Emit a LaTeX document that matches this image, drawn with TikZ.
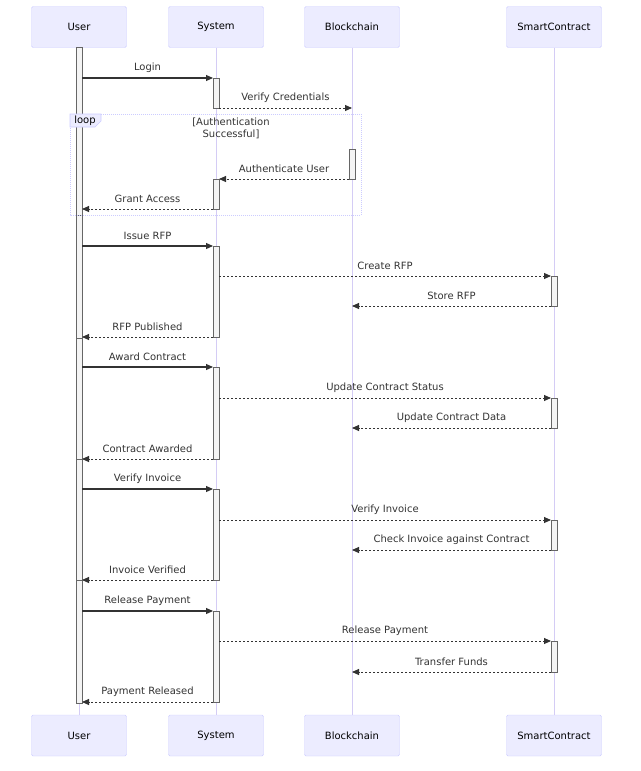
\documentclass[tikz,border=0pt]{standalone}
\usepackage{fontspec}
\setmainfont{DejaVu Sans}
\usetikzlibrary{arrows.meta}
\definecolor{actfill}{HTML}{ECECFF}
\definecolor{actline}{HTML}{CCCCFF}
\definecolor{lifeline}{HTML}{D4CCF5}
\definecolor{txt}{HTML}{333333}
\definecolor{barfill}{HTML}{F4F4F4}
\definecolor{barline}{HTML}{666666}
\begin{document}
\begin{tikzpicture}[x=1pt,y=-1pt,
  font=\fontsize{10}{12}\selectfont,
  actor/.style={draw=actline,fill=actfill,rounded corners=1.5pt,minimum width=95pt,minimum height=41pt,inner sep=0pt,text=black},
  bar/.style={draw=barline,fill=barfill,line width=0.6pt},
  lifel/.style={draw=lifeline,line width=1pt},
  msg/.style={draw=txt,line width=1.1pt,-{Triangle[length=7pt,width=6pt]}},
  reply/.style={msg,line width=0.9pt,dash pattern=on 2pt off 2pt},
  lbl/.style={midway,yshift=10.5pt,inner sep=0pt,text=txt}]
\useasboundingbox (0,0) rectangle (640,771);
% actors
\node[actor] (uT) at (79,27) {User};
\node[actor] (sT) at (216,27) {System};
\node[actor] (bT) at (352,27) {Blockchain};
\node[actor] (cT) at (554,27) {SmartContract};
\node[actor] (uB) at (79,735.5) {User};
\node[actor] (sB) at (216,735.5) {System};
\node[actor] (bB) at (352,735.5) {Blockchain};
\node[actor] (cB) at (554,735.5) {SmartContract};
\draw[lifel] (uT) -- (uB);
\draw[lifel] (sT) -- (sB);
\draw[lifel] (bT) -- (bB);
\draw[lifel] (cT) -- (cB);
% activation bars
\newcommand{\actbar}[4]{\path[bar] (#2-3,#3) rectangle (#2+3,#4); \coordinate (#1nw) at (#2-3,#3); \coordinate (#1ne) at (#2+3,#3); \coordinate (#1sw) at (#2-3,#4); \coordinate (#1se) at (#2+3,#4);}
\actbar{uA1}{79}{47}{215}
\actbar{uA2}{79}{215}{338}
\actbar{uA3}{79}{338}{459}
\actbar{uA4}{79}{459}{580}
\actbar{uA5}{79}{580}{703}
\actbar{sA1}{216}{78}{108}
\actbar{bA1}{352}{149}{179}
\actbar{sA2}{216}{179}{209}
\actbar{sA3}{216}{246}{337}
\actbar{cA1}{554}{276}{306}
\actbar{sA4}{216}{367}{459}
\actbar{cA2}{554}{398}{428}
\actbar{sA5}{216}{489}{580}
\actbar{cA3}{554}{520}{550}
\actbar{sA6}{216}{611}{702}
\actbar{cA4}{554}{641}{672}
% loop frame
\draw[actline,line width=0.8pt,dash pattern=on 1pt off 1pt] (70,114) rectangle (361,215);
\draw[actline,fill=actfill,line width=0.6pt] (70,114) -- (101,114) -- (101,121) -- (95,127) -- (70,127) -- cycle;
\node[inner sep=0pt,text=black] (looplbl) at (85,121) {loop};
\node[inner sep=0pt,text=txt,align=center,font=\fontsize{10}{12}\selectfont] (cond) at (231,128) {[Authentication\\Successful]};
% messages
\draw[msg] (sA1nw -| uA1ne) -- (sA1nw) node[lbl] (l1) {Login};
\draw[reply] (sA1se) -- (sA1se -| bT) node[lbl] (l2) {Verify Credentials};
\draw[reply] (bA1sw) -- (bA1sw -| sA2ne) node[lbl] (l3) {Authenticate User};
\draw[reply] (sA2sw) -- (sA2sw -| uA1ne) node[lbl] (l4) {Grant Access};
\draw[msg] (sA3nw -| uA2ne) -- (sA3nw) node[lbl] (l5) {Issue RFP};
\draw[reply] (cA1nw -| sA3ne) -- (cA1nw) node[lbl] (l6) {Create RFP};
\draw[reply] (cA1sw) -- (cA1sw -| bT) node[lbl] (l7) {Store RFP};
\draw[reply] (sA3sw) -- (sA3sw -| uA2ne) node[lbl] (l8) {RFP Published};
\draw[msg] (sA4nw -| uA3ne) -- (sA4nw) node[lbl] (l9) {Award Contract};
\draw[reply] (cA2nw -| sA4ne) -- (cA2nw) node[lbl] (l10) {Update Contract Status};
\draw[reply] (cA2sw) -- (cA2sw -| bT) node[lbl] (l11) {Update Contract Data};
\draw[reply] (sA4sw) -- (sA4sw -| uA3ne) node[lbl] (l12) {Contract Awarded};
\draw[msg] (sA5nw -| uA4ne) -- (sA5nw) node[lbl] (l13) {Verify Invoice};
\draw[reply] (cA3nw -| sA5ne) -- (cA3nw) node[lbl] (l14) {Verify Invoice};
\draw[reply] (cA3sw) -- (cA3sw -| bT) node[lbl] (l15) {Check Invoice against Contract};
\draw[reply] (sA5sw) -- (sA5sw -| uA4ne) node[lbl] (l16) {Invoice Verified};
\draw[msg] (sA6nw -| uA5ne) -- (sA6nw) node[lbl] (l17) {Release Payment};
\draw[reply] (cA4nw -| sA6ne) -- (cA4nw) node[lbl] (l18) {Release Payment};
\draw[reply] (cA4sw) -- (cA4sw -| bT) node[lbl] (l19) {Transfer Funds};
\draw[reply] (sA6sw) -- (sA6sw -| uA5ne) node[lbl] (l20) {Payment Released};
\end{tikzpicture}
\end{document}
